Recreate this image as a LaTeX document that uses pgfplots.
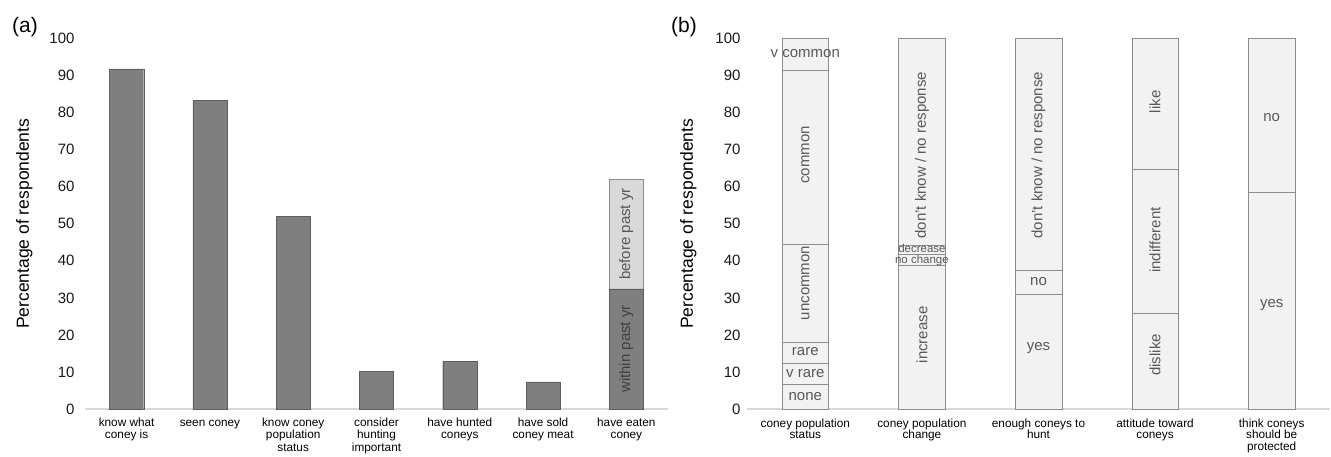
\documentclass[border=0pt]{standalone}
\usepackage{fontspec}
\setmainfont{Liberation Sans}
\usepackage{pgfplots}
\pgfplotsset{compat=1.18}
\definecolor{bardark}{HTML}{7F7F7F}
\definecolor{bardarkline}{HTML}{5E5E5E}
\definecolor{barlight}{HTML}{F2F2F2}
\definecolor{barlightline}{HTML}{8C8C8C}
\definecolor{barmid}{HTML}{D9D9D9}
\definecolor{axisgray}{HTML}{D9D9D9}
\definecolor{segtext}{HTML}{595959}
\tikzset{seg/.style={font=\fontsize{15}{15}\selectfont, text=segtext}}
\pgfplotsset{
  base/.style={
    scale only axis, width=583pt, height=370.5pt,
    ymin=0, ymax=100, ytick={0,10,...,100},
    axis lines*=left,
    y axis line style={draw=none},
    x axis line style={draw=axisgray, line width=1.3pt, -},
    major tick length=0pt, clip=false,
    /pgf/number format/assume math mode=true,
    yticklabel style={font=\fontsize{15}{15}\selectfont, text=black!90},
    xticklabel style={font=\fontsize{11.8}{12.6}\selectfont, align=center, text=black, yshift=-5pt},
    ylabel={Percentage of respondents},
    ylabel style={font=\fontsize{17.5}{17.5}\selectfont, at={(axis description cs:0,0.5)}, anchor=south},
  },
}
\begin{document}
\begin{tikzpicture}
\path[use as bounding box] (0,0) rectangle (1331pt,456pt);
\node[font=\fontsize{21}{21}\selectfont] at (25pt,429pt) {(a)};
\node[font=\fontsize{21}{21}\selectfont] at (684pt,429pt) {(b)};
\begin{axis}[base, at={(85pt,47pt)}, anchor=south west,
  xmin=-0.5, xmax=6.5, xtick={0,...,6},
  xticklabels={{know what\\coney is},{\rule{0pt}{9pt}seen coney},{know coney\\population\\status},{consider\\hunting\\important},{have hunted\\coneys},{have sold\\coney meat},{have eaten\\coney}},
  yticklabel style={xshift=-7pt},
  ylabel style={yshift=49pt},
  ybar, bar width=0.41, bar shift=0pt]
\addplot[fill=barmid, draw=barlightline] coordinates {(6,62.0)};
\addplot[fill=bardark, draw=bardarkline] coordinates {(0,91.8)(1,83.4)(2,52.0)(3,10.1)(4,12.9)(5,7.3)(6,32.4)};
\node[seg, rotate=90, text=black!75] at (axis cs:6,16.2) {within past yr};
\node[seg, rotate=90] at (axis cs:6,47.2) {before past yr};
\end{axis}
\begin{axis}[base, at={(747pt,47pt)}, anchor=south west,
  xmin=-0.5, xmax=4.5, xtick={0,...,4},
  xticklabels={{coney population\\status},{coney population\\change},{enough coneys to\\hunt},{attitude toward\\coneys},{think coneys\\should be\\protected}},
  xticklabel style={font=\fontsize{11.8}{11.5}\selectfont, yshift=-1pt},
  yticklabel style={xshift=-3pt},
  ylabel style={yshift=47pt},
  ybar stacked, bar width=0.40]
\addplot[fill=barlight, draw=barlightline] coordinates {(0,6.8)(1,38.9)(2,31.1)(3,25.9)(4,58.4)};
\addplot[fill=barlight, draw=barlightline] coordinates {(0,5.6)(1,2.9)(2,6.4)(3,38.7)(4,41.6)};
\addplot[fill=barlight, draw=barlightline] coordinates {(0,5.7)(1,2.5)(2,62.5)(3,35.4)(4,0)};
\addplot[fill=barlight, draw=barlightline] coordinates {(0,26.5)(1,55.7)(2,0)(3,0)(4,0)};
\addplot[fill=barlight, draw=barlightline] coordinates {(0,46.9)(1,0)(2,0)(3,0)(4,0)};
\addplot[fill=barlight, draw=barlightline] coordinates {(0,8.5)(1,0)(2,0)(3,0)(4,0)};
\end{axis}
\begin{axis}[scale only axis, width=583pt, height=370.5pt, at={(747pt,47pt)}, anchor=south west,
  xmin=-0.5, xmax=4.5, ymin=0, ymax=100, hide axis, clip=false]
\node[seg] at (axis cs:0,3.3) {none};
\node[seg] at (axis cs:0,9.6) {v rare};
\node[seg] at (axis cs:0,15.4) {rare};
\node[seg, rotate=90] at (axis cs:0,34.0) {uncommon};
\node[seg, rotate=90] at (axis cs:0,68.6) {common};
\node[seg] at (axis cs:0,96.0) {v common};
\node[seg, rotate=90] at (axis cs:1,20.0) {increase};
\node[seg, font=\fontsize{11.5}{11.5}\selectfont, inner sep=0pt] at (axis cs:1,40.0) {no change};
\node[seg, font=\fontsize{11.5}{11.5}\selectfont, inner sep=0pt] at (axis cs:1,43.3) {decrease};
\node[seg, rotate=90] at (axis cs:1,68.5) {don't know / no response};
\node[seg] at (axis cs:2,16.5) {yes};
\node[seg] at (axis cs:2,34.3) {no};
\node[seg, rotate=90] at (axis cs:2,68.5) {don't know / no response};
\node[seg, rotate=90] at (axis cs:3,14.6) {dislike};
\node[seg, rotate=90] at (axis cs:3,45.6) {indifferent};
\node[seg, rotate=90] at (axis cs:3,82.9) {like};
\node[seg] at (axis cs:4,28.0) {yes};
\node[seg] at (axis cs:4,78.6) {no};
\end{axis}
\end{tikzpicture}
\end{document}
